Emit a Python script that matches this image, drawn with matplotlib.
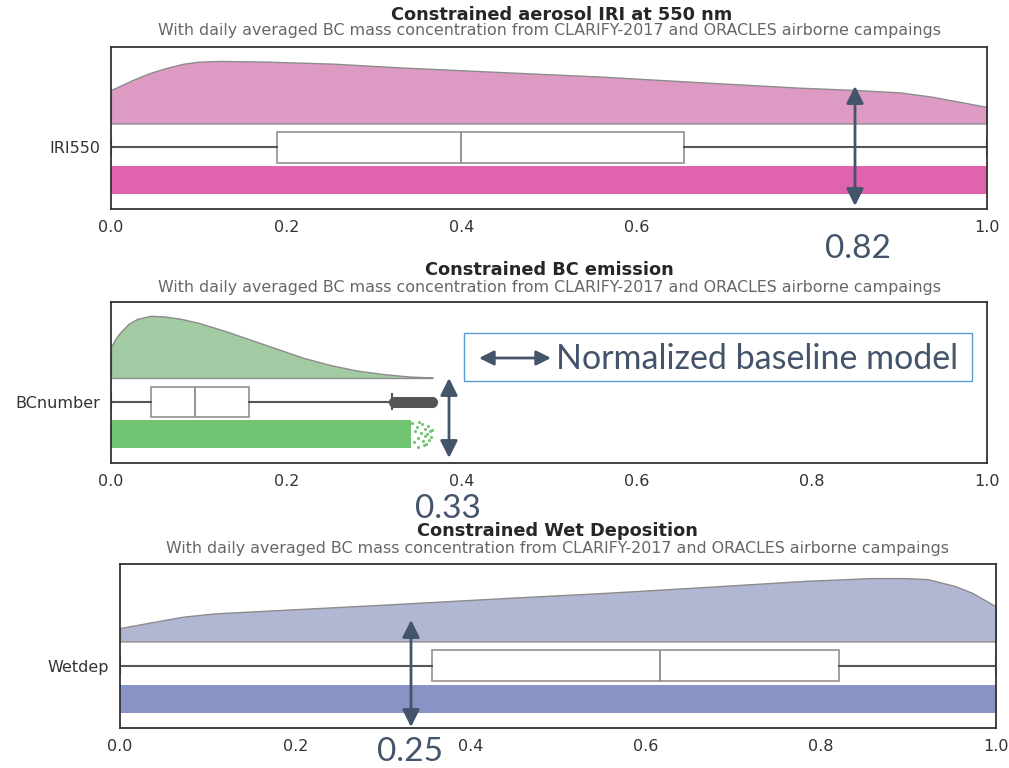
import matplotlib.pyplot as plt
from matplotlib.patches import Rectangle, FancyArrowPatch

W, H = 1009, 768

# --- data ---
names = ['IRI550', 'BCnumber', 'Wetdep']
titles = ['Constrained aerosol IRI at 550 nm', 'Constrained BC emission', 'Constrained Wet Deposition']
subtitle = 'With daily averaged BC mass concentration from CLARIFY-2017 and ORACLES airborne campaings'

# half-violin (density) outlines: x and relative height
iri_x = [0, 0.025, 0.045, 0.064, 0.083, 0.1, 0.125, 0.178, 0.254, 0.33, 0.45, 0.558,
         0.672, 0.786, 0.85, 0.9, 0.938, 0.969, 1.0]
iri_d = [33, 43, 50, 55, 59, 61, 61.7, 61, 59, 55.3, 50.5, 46.3, 40.7, 35.3, 33, 30.7, 26.3, 21.3, 16.3]
bc_x = [0, 0.005, 0.01, 0.02, 0.03, 0.045, 0.06, 0.08, 0.1, 0.13, 0.16, 0.19, 0.22, 0.25,
        0.28, 0.31, 0.34, 0.367]
bc_d = [31, 39, 45, 54, 59, 62, 61.5, 59, 55, 47, 38, 29, 20, 13, 7.5, 4, 1.5, 0.5]
wet_x = [0, 0.032, 0.071, 0.108, 0.185, 0.299, 0.44, 0.554, 0.668, 0.782, 0.858, 0.896,
         0.922, 0.953, 0.973, 1.0]
wet_d = [13, 18, 24, 27.3, 30.7, 35.7, 42.3, 47.3, 53, 59, 61.7, 61.7, 60.7, 54, 47.3, 34]

# box statistics: whislo, q1, median, q3, whishi
iri_box = [0.0, 0.19, 0.40, 0.654, 1.0]
bc_box = [0.0, 0.046, 0.096, 0.157, 0.321]
wet_box = [0.0, 0.356, 0.616, 0.821, 1.0]
bc_fliers = [0.323, 0.326, 0.329, 0.332, 0.335, 0.338, 0.341, 0.344, 0.347,
             0.350, 0.353, 0.356, 0.359, 0.362, 0.365, 0.367]

# rain (strip) extent and BC sparse tail
iri_rain = [0.0, 1.0]
bc_rain = [0.0, 0.343]
wet_rain = [0.0, 1.0]
bc_tail_x = [0.344, 0.346, 0.347, 0.349, 0.350, 0.351, 0.352, 0.354, 0.355, 0.356, 0.357,
             0.358, 0.359, 0.360, 0.361, 0.362, 0.363, 0.364, 0.365, 0.366]
bc_tail_y = [0.9, 0.2, 0.6, 0.75, 0.35, 0.05, 0.95, 0.55, 0.85, 0.25, 0.1,
             0.45, 0.7, 0.15, 0.5, 0.8, 0.3, 0.6, 0.4, 0.65]

dens_x = [iri_x, bc_x, wet_x]
dens_y = [iri_d, bc_d, wet_d]
boxes = [iri_box, bc_box, wet_box]
rains = [iri_rain, bc_rain, wet_rain]
cloud_colors = ['#dd9bc4', '#a3cba3', '#b1b6d2']
rain_colors = ['#e063ae', '#70c472', '#8a93c6']
xticks_shown = [[0.0, 0.2, 0.4, 0.6, 1.0], [0.0, 0.2, 0.4, 0.6, 0.8, 1.0], [0.0, 0.2, 0.4, 0.6, 0.8, 1.0]]

# axes boxes in pixels: left, top, right, bottom
ax_px = [(111, 47, 987, 209), (111, 302, 987, 463), (120, 564, 996, 728)]

fig = plt.figure(figsize=(W / 100, H / 100), dpi=100)


def fx(x):
    return x / W


def fy(y):
    return 1 - y / H


base, box_c, box_w, rain_lo, rain_hi, top_h = 0.528, 0.380, 0.19, 0.093, 0.265, 0.386

for i in range(3):
    l, t, r, b = ax_px[i]
    ax = fig.add_axes([fx(l), fy(b), (r - l) / W, (b - t) / H])
    ax.set_xlim(0, 1)
    ax.set_ylim(0, 1)

    # cloud
    m = max(dens_y[i])
    ys = [base + v / m * top_h for v in dens_y[i]]
    ax.fill_between(dens_x[i], base, ys, facecolor=cloud_colors[i], edgecolor='#8c8c8c', lw=1, zorder=2)

    # rain
    ax.fill_between(rains[i], rain_lo, rain_hi, color=rain_colors[i], lw=0, zorder=2)
    if i == 1:
        ax.scatter(bc_tail_x, [rain_lo + v * (rain_hi - rain_lo) for v in bc_tail_y],
                   s=5, color=rain_colors[i], lw=0, zorder=2)

    # box
    s = boxes[i]
    st = dict(whislo=s[0], q1=s[1], med=s[2], q3=s[3], whishi=s[4],
              fliers=bc_fliers if i == 1 else [])
    ax.bxp([st], positions=[box_c], widths=[box_w], orientation='horizontal', patch_artist=True,
           showfliers=True, capwidths=[box_w / 2],
           boxprops=dict(facecolor='white', edgecolor='#9a9a9a', lw=1.3),
           medianprops=dict(color='#8a8a8a', lw=1.3),
           whiskerprops=dict(color='#555555', lw=1.5),
           capprops=dict(color='#555555', lw=1.5),
           flierprops=dict(marker='o', markersize=7, markerfacecolor='#555555',
                           markeredgecolor='#555555'), manage_ticks=False)

    ax.set_yticks([box_c])
    ax.set_yticklabels([names[i]], fontsize=11.5, color='#333333')
    ax.set_xticks(xticks_shown[i])
    ax.set_xticklabels(['%.1f' % v for v in xticks_shown[i]], fontsize=11.5, color='#333333')
    ax.tick_params(length=0, pad=8)
    for sp in ax.spines.values():
        sp.set_color('#333333')
        sp.set_linewidth(1.3)

# titles
title_pos = [(562, 15, 549, 31), (549, 270, 549, 287), (557, 531, 558, 548)]
for i in range(3):
    tx, ty, sx, sy = title_pos[i]
    fig.text(fx(tx), fy(ty), titles[i], ha='center', va='center', fontsize=12.8,
             fontweight='bold', color='#262626')
    fig.text(fx(sx), fy(sy), subtitle, ha='center', va='center', fontsize=11.4, color='#666666')

# overlay annotations
ann = '#44546a'


def arrow(x0, y0, x1, y1, scale):
    p = FancyArrowPatch((fx(x0), fy(y0)), (fx(x1), fy(y1)), transform=fig.transFigure,
                        arrowstyle='<|-|>,head_length=0.8,head_width=0.4', mutation_scale=scale,
                        color=ann, lw=2, shrinkA=0, shrinkB=0, zorder=6)
    fig.add_artist(p)


for (x, y0, y1) in [(855, 86, 206), (449, 378, 458), (411, 620, 727)]:
    arrow(x, y0, x, y1, 13)

for (txt, x, y) in [('0.82', 858, 249), ('0.33', 448, 509), ('0.25', 410, 752)]:
    fig.text(fx(x), fy(y), txt, ha='center', va='center', fontsize=24, family='Lato', color=ann)

fig.add_artist(Rectangle((fx(464), fy(381)), (972 - 464) / W, (381 - 333) / H, transform=fig.transFigure,
                         facecolor='white', edgecolor='#5b9bd5', lw=1, zorder=5))
arrow(479, 358, 551, 358, 11)
fig.text(fx(556), fy(359), 'Normalized baseline model', ha='left', va='center', fontsize=24.5,
         family='Lato', color=ann, zorder=6)

fig.savefig('out.png', dpi=100)
